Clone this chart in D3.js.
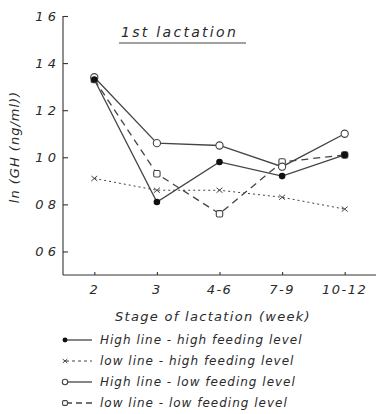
<!DOCTYPE html>
<html>
<head>
<meta charset="utf-8">
<script src="https://cdn.jsdelivr.net/npm/d3@7"></script>
<style>
  html, body { margin: 0; padding: 0; background: #fff; }
  svg text { font-family: "DejaVu Sans", sans-serif; font-style: italic; fill: #2a2a2a; }
</style>
</head>
<body>
<script>
var stages = ["2", "3", "4-6", "7-9", "10-12"];
var yTicks = [0.6, 0.8, 1.0, 1.2, 1.4, 1.6];
var yTickLabels = ["0 6", "0 8", "1 0", "1 2", "1 4", "1 6"];

var highHigh = [1.33, 0.81, 0.98, 0.92, 1.01];
var lowHigh = [0.91, 0.86, 0.86, 0.83, 0.78];
var highLow = [1.34, 1.06, 1.05, 0.96, 1.10];
var lowLow = [1.33, 0.93, 0.76, 0.98, 1.01];

var seriesNames = [
  "High line - high feeding level",
  "low line - high feeding level",
  "High line - low feeding level",
  "low line - low feeding level"
];

var width = 377, height = 414;
var plotLeft = 63, plotRight = 376, plotTop = 16, plotBottom = 275;

var svg = d3.select("body").append("svg")
  .attr("width", width)
  .attr("height", height);

var x = d3.scalePoint().domain(stages).range([plotLeft, plotRight]).padding(0.5);
var y = d3.scaleLinear().domain([0.5, 1.6]).range([plotBottom, plotTop]);

// axes
var gy = svg.append("g").attr("transform", "translate(" + plotLeft + ",0)")
  .call(d3.axisRight(y).tickValues(yTicks).tickSize(5).tickFormat(""));
gy.selectAll("path, line").attr("stroke", "#333").attr("stroke-width", 1.1);
gy.select(".domain").attr("d", "M0," + y(1.6) + "V" + plotBottom);

gy.selectAll(".ytl").data(yTicks).enter().append("text")
  .attr("class", "ytl")
  .attr("x", -7)
  .attr("y", function(d) { return y(d) + 5; })
  .attr("text-anchor", "end")
  .style("font-size", "13px")
  .text(function(d, i) { return yTickLabels[i]; });

var gx = svg.append("g").attr("transform", "translate(0," + plotBottom + ")")
  .call(d3.axisTop(x).tickSize(3).tickFormat(""));
gx.selectAll("path, line").attr("stroke", "#333").attr("stroke-width", 1.1);
gx.select(".domain").attr("d", "M" + plotLeft + ",0H" + plotRight);

gx.selectAll(".xtl").data(stages).enter().append("text")
  .attr("class", "xtl")
  .attr("x", function(d) { return x(d); })
  .attr("y", 19)
  .attr("text-anchor", "middle")
  .style("font-size", "13px")
  .style("letter-spacing", "1.5px")
  .text(function(d) { return d; });

// title
svg.append("text")
  .attr("x", 121).attr("y", 37)
  .style("font-size", "14px")
  .style("letter-spacing", "2.3px")
  .text("1st lactation");
svg.append("line")
  .attr("x1", 119).attr("x2", 246).attr("y1", 43).attr("y2", 43)
  .attr("stroke", "#444").attr("stroke-width", 1.2);

// axis titles
svg.append("text")
  .attr("transform", "translate(19,147) rotate(-90)")
  .attr("text-anchor", "middle")
  .style("font-size", "13px")
  .style("letter-spacing", "1px")
  .text("ln (GH (ng/ml))");

svg.append("text")
  .attr("x", 213).attr("y", 321)
  .attr("text-anchor", "middle")
  .style("font-size", "13px")
  .style("letter-spacing", "1.3px")
  .text("Stage of lactation (week)");

// series
var series = [
  { values: highHigh, dash: null, marker: "dot" },
  { values: lowHigh, dash: "2,3", marker: "cross" },
  { values: highLow, dash: null, marker: "circle" },
  { values: lowLow, dash: "7,5", marker: "square" }
];

var line = d3.line()
  .x(function(d, i) { return x(stages[i]); })
  .y(function(d) { return y(d); });

function drawMarker(g, type, cx, cy, k) {
  k = k || 1;
  if (type === "dot") {
    g.append("circle").attr("cx", cx).attr("cy", cy).attr("r", 3.3 * k).attr("fill", "#111");
  } else if (type === "circle") {
    g.append("circle").attr("cx", cx).attr("cy", cy).attr("r", 3.6 * k)
      .attr("fill", "#fff").attr("stroke", "#444").attr("stroke-width", 1.1);
  } else if (type === "square") {
    var h = 3.2 * k;
    g.append("rect").attr("x", cx - h).attr("y", cy - h).attr("width", 2 * h).attr("height", 2 * h)
      .attr("rx", 1.5 * k).attr("fill", "#fff").attr("stroke", "#444").attr("stroke-width", 1.1);
  } else {
    var a = 3 * k, b = 2.5 * k;
    g.append("path")
      .attr("d", "M" + (cx - a) + "," + (cy - b) + "L" + (cx + a) + "," + (cy + b) +
        "M" + (cx - a) + "," + (cy + b) + "L" + (cx + a) + "," + (cy - b))
      .attr("stroke", "#444").attr("stroke-width", 1);
  }
}

var plot = svg.append("g");
series.forEach(function(s) {
  plot.append("path")
    .attr("d", line(s.values))
    .attr("fill", "none")
    .attr("stroke", "#444")
    .attr("stroke-width", s.dash === "2,3" ? 1 : 1.3)
    .attr("stroke-dasharray", s.dash);
});
// markers, first series drawn last so the filled dots sit on top
series.slice().reverse().forEach(function(s) {
  s.values.forEach(function(v, i) {
    drawMarker(plot, s.marker, x(stages[i]), y(v));
  });
});

// legend
var legendY = [340, 361, 382, 403];
var legendDash = [null, "3,3", null, "6,4"];
series.forEach(function(s, i) {
  var g = svg.append("g");
  var ly = legendY[i];
  g.append("line")
    .attr("x1", 66).attr("x2", 92).attr("y1", ly).attr("y2", ly)
    .attr("stroke", "#444").attr("stroke-width", s.dash === "2,3" ? 1 : 1.3)
    .attr("stroke-dasharray", legendDash[i]);
  drawMarker(g, s.marker, 65, ly, 0.75);
  g.append("text")
    .attr("x", 100).attr("y", ly + 4)
    .style("font-size", "12px")
    .style("letter-spacing", "1px")
    .text(seriesNames[i]);
});
</script>
</body>
</html>
